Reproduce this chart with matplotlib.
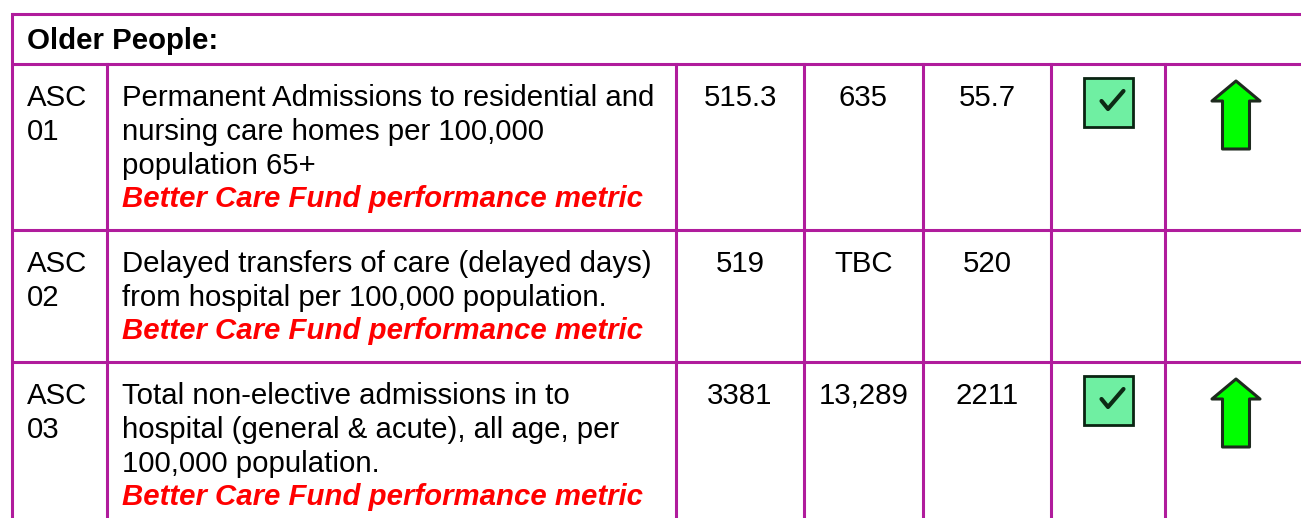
import matplotlib
matplotlib.use("Agg")
import matplotlib.pyplot as plt
from matplotlib.patches import Rectangle, Polygon

# ---- table content ----
section_title = "Older People:"
codes = [["ASC", "01"], ["ASC", "02"], ["ASC", "03"]]
descriptions = [
    ["Permanent Admissions to residential and",
     "nursing care homes per 100,000",
     "population 65+"],
    ["Delayed transfers of care (delayed days)",
     "from hospital per 100,000 population."],
    ["Total non-elective admissions in to",
     "hospital (general & acute), all age, per",
     "100,000 population."],
]
bcf_note = "Better Care Fund performance metric"
col_a = ["515.3", "519", "3381"]
col_b = ["635", "TBC", "13,289"]
col_c = ["55.7", "520", "2211"]
status_ok = [True, False, True]
trend_up = [True, False, True]

# ---- layout ----
W, H = 1301, 518
col_edges = [12, 107, 676, 804, 923, 1051, 1165, 1301]
top = 14
header_bottom = 64
row_edges = [64, 229.5, 362, 518]
border = "#B01C9C"
lw = 2.2
fs = 21.2
line_h = 33.5
font = "Liberation Sans"

fig = plt.figure(figsize=(W / 100, H / 100), dpi=100)
ax = fig.add_axes([0, 0, 1, 1])
ax.set_xlim(0, W)
ax.set_ylim(H, 0)
ax.axis("off")

# grid lines
ax.plot([col_edges[0], W + 5], [top, top], color=border, lw=lw, solid_capstyle="butt")
for y in row_edges[:-1]:
    ax.plot([col_edges[0], W + 5], [y, y], color=border, lw=lw, solid_capstyle="butt")
ax.plot([col_edges[0], col_edges[0]], [top, H + 5], color=border, lw=lw)
for x in col_edges[1:-1]:
    ax.plot([x, x], [header_bottom, H + 5], color=border, lw=lw)

# header
ax.text(27, 49, section_title, fontsize=fs, fontweight="bold", family=font,
        va="baseline", ha="left", color="black")

def draw_check(cx, ytop):
    s = 49
    x0 = cx - s / 2
    ax.add_patch(Rectangle((x0, ytop), s, s, facecolor="#6FEFA2",
                           edgecolor="#0A2412", lw=2.0))
    ax.plot([x0 + 18, x0 + 24.5, x0 + 40], [ytop + 23, ytop + 31, ytop + 13],
            color="#0D2A15", lw=3.0, solid_capstyle="round", solid_joinstyle="round")

def draw_arrow(cx, ytop):
    w, h, hh, sw = 48, 68, 20, 27
    pts = [(cx, ytop), (cx + w / 2, ytop + hh), (cx + sw / 2, ytop + hh),
           (cx + sw / 2, ytop + h), (cx - sw / 2, ytop + h),
           (cx - sw / 2, ytop + hh), (cx - w / 2, ytop + hh)]
    ax.add_patch(Polygon(pts, closed=True, facecolor="#00FF00",
                         edgecolor="#1E2A1E", lw=2.2, joinstyle="round"))

for i in range(len(codes)):
    y0 = row_edges[i]
    base = y0 + 42.5
    for j, line in enumerate(codes[i]):
        ax.text(27, base + j * line_h, line, fontsize=fs, family=font,
                va="baseline", ha="left", color="black")
    for j, line in enumerate(descriptions[i]):
        ax.text(122, base + j * line_h, line, fontsize=fs, family=font,
                va="baseline", ha="left", color="black")
    ax.text(122, base + len(descriptions[i]) * line_h, bcf_note, fontsize=fs,
            family=font, fontweight="bold", style="italic", va="baseline",
            ha="left", color="#FF0000")
    for k, vals in enumerate([col_a, col_b, col_c]):
        cx = (col_edges[2 + k] + col_edges[3 + k]) / 2
        ax.text(cx, base, vals[i], fontsize=fs, family=font, va="baseline",
                ha="center", color="black")
    if status_ok[i]:
        draw_check((col_edges[5] + col_edges[6]) / 2, y0 + 14)
    if trend_up[i]:
        draw_arrow(1236, y0 + 17)

fig.savefig("out.png", dpi=100, facecolor="white")
